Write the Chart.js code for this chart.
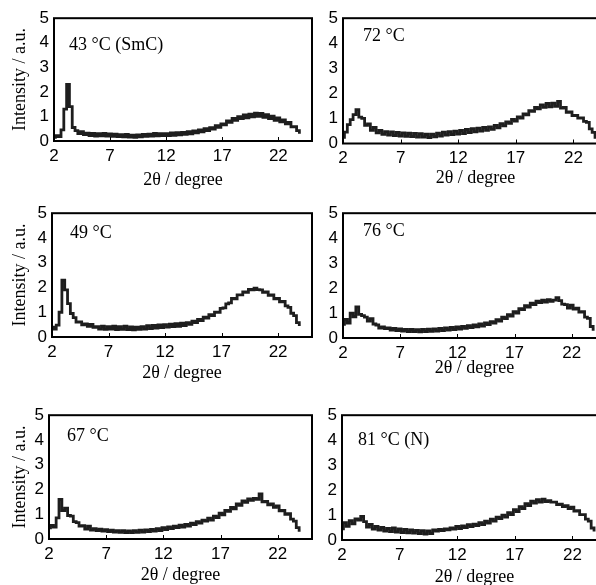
<!DOCTYPE html>
<html>
<head>
<meta charset="utf-8">
<script src="https://cdn.jsdelivr.net/npm/chart.js@4.4.0/dist/chart.umd.min.js"></script>
<style>
  html, body { margin: 0; padding: 0; background: #fff; width: 596px; height: 585px; overflow: hidden; }
  canvas { position: absolute; }
</style>
</head>
<body>
<script>
// 2theta sampling (degree)
const angles = [
  2.00, 2.25, 2.50, 2.75, 3.00, 3.25, 3.50, 3.75,
  4.00, 4.25, 4.50, 4.75, 5.00, 5.25, 5.50, 5.75,
  6.00, 6.25, 6.50, 6.75, 7.00, 7.25, 7.50, 7.75,
  8.00, 8.25, 8.50, 8.75, 9.00, 9.25, 9.50, 9.75,
  10.00, 10.25, 10.50, 10.75, 11.00, 11.25, 11.50, 11.75,
  12.00, 12.25, 12.50, 12.75, 13.00, 13.25, 13.50, 13.75,
  14.00, 14.25, 14.50, 14.75, 15.00, 15.25, 15.50, 15.75,
  16.00, 16.25, 16.50, 16.75, 17.00, 17.25, 17.50, 17.75,
  18.00, 18.25, 18.50, 18.75, 19.00, 19.25, 19.50, 19.75,
  20.00, 20.25, 20.50, 20.75, 21.00, 21.25, 21.50, 21.75,
  22.00, 22.25, 22.50, 22.75, 23.00, 23.25, 23.50, 23.75,
  24.00
];
const angleTicks = [2, 7, 12, 17, 22];
const intensityTicks = [0, 1, 2, 3, 4, 5];
const panelLabels = ['43 °C (SmC)', '72 °C', '49 °C', '76 °C', '67 °C', '81 °C (N)'];

// intensity (a.u.) per temperature
const i43 = [
  0.15, 0.22, 0.18, 0.45, 1.30, 2.30, 1.40, 0.55,
  0.42, 0.30, 0.38, 0.26, 0.32, 0.22, 0.31, 0.20,
  0.30, 0.21, 0.31, 0.20, 0.29, 0.19, 0.28, 0.18,
  0.26, 0.17, 0.27, 0.16, 0.24, 0.15, 0.25, 0.17,
  0.27, 0.19, 0.28, 0.20, 0.31, 0.21, 0.30, 0.22,
  0.30, 0.22, 0.33, 0.23, 0.34, 0.25, 0.35, 0.27,
  0.38, 0.29, 0.41, 0.33, 0.45, 0.37, 0.50, 0.42,
  0.54, 0.48, 0.62, 0.56, 0.70, 0.66, 0.82, 0.76,
  0.92, 0.84, 0.99, 0.91, 1.06, 0.94, 1.09, 0.98,
  1.13, 1.00, 1.12, 0.96, 1.07, 0.91, 1.01, 0.84,
  0.94, 0.78, 0.86, 0.70, 0.76, 0.58, 0.58, 0.42,
  0.35
];
const i72 = [
  0.25, 0.45, 0.75, 0.95, 1.15, 1.35, 1.05, 1.00,
  0.72, 0.78, 0.52, 0.64, 0.42, 0.52, 0.37, 0.47,
  0.34, 0.46, 0.32, 0.44, 0.30, 0.42, 0.29, 0.41,
  0.28, 0.40, 0.26, 0.39, 0.26, 0.37, 0.24, 0.37,
  0.27, 0.41, 0.30, 0.45, 0.34, 0.47, 0.36, 0.49,
  0.38, 0.52, 0.40, 0.56, 0.43, 0.59, 0.46, 0.61,
  0.49, 0.64, 0.52, 0.66, 0.56, 0.72, 0.62, 0.79,
  0.70, 0.86, 0.80, 0.96, 0.89, 1.06, 1.01, 1.18,
  1.14, 1.31, 1.28, 1.44, 1.38, 1.54, 1.44, 1.60,
  1.46, 1.61, 1.48, 1.68, 1.41, 1.44, 1.24, 1.26,
  1.11, 1.12, 1.01, 1.02, 0.88, 0.84, 0.58, 0.44,
  0.25
];
const i49 = [
  0.40, 0.32, 0.48, 1.00, 2.30, 1.90, 1.35, 0.95,
  0.78, 0.60, 0.61, 0.49, 0.53, 0.43, 0.51, 0.39,
  0.42, 0.32, 0.44, 0.31, 0.42, 0.32, 0.44, 0.30,
  0.42, 0.31, 0.44, 0.30, 0.41, 0.29, 0.40, 0.31,
  0.42, 0.32, 0.46, 0.34, 0.47, 0.36, 0.49, 0.38,
  0.50, 0.40, 0.52, 0.42, 0.54, 0.43, 0.56, 0.46,
  0.58, 0.51, 0.64, 0.58, 0.71, 0.66, 0.80, 0.76,
  0.90, 0.86, 1.00, 1.00, 1.16, 1.18, 1.34, 1.38,
  1.56, 1.54, 1.70, 1.70, 1.82, 1.80, 1.92, 1.90,
  1.97, 1.91, 1.90, 1.80, 1.82, 1.68, 1.70, 1.54,
  1.56, 1.42, 1.44, 1.26, 1.20, 0.96, 0.86, 0.58,
  0.50
];
const i76 = [
  0.55, 0.75, 0.60, 1.00, 0.85, 1.25, 0.95, 0.90,
  0.84, 0.68, 0.78, 0.56, 0.52, 0.40, 0.44, 0.38,
  0.40, 0.32, 0.38, 0.30, 0.36, 0.28, 0.34, 0.26,
  0.34, 0.26, 0.33, 0.25, 0.34, 0.26, 0.35, 0.27,
  0.36, 0.28, 0.38, 0.30, 0.40, 0.32, 0.42, 0.34,
  0.44, 0.36, 0.46, 0.39, 0.49, 0.42, 0.52, 0.45,
  0.56, 0.48, 0.60, 0.54, 0.66, 0.60, 0.74, 0.68,
  0.84, 0.78, 0.94, 0.88, 1.06, 1.00, 1.18, 1.14,
  1.30, 1.24, 1.40, 1.34, 1.48, 1.42, 1.52, 1.44,
  1.54, 1.47, 1.52, 1.62, 1.50, 1.36, 1.34, 1.20,
  1.32, 1.16, 1.20, 1.04, 1.06, 0.84, 0.79, 0.46,
  0.35
];
const i67 = [
  0.45, 0.55, 0.48, 0.85, 1.60, 1.15, 1.25, 0.95,
  0.92, 0.70, 0.66, 0.52, 0.54, 0.40, 0.52, 0.36,
  0.42, 0.34, 0.40, 0.32, 0.38, 0.30, 0.36, 0.28,
  0.34, 0.27, 0.34, 0.26, 0.33, 0.26, 0.34, 0.27,
  0.36, 0.28, 0.37, 0.30, 0.39, 0.32, 0.42, 0.34,
  0.46, 0.38, 0.49, 0.42, 0.52, 0.46, 0.56, 0.48,
  0.59, 0.52, 0.64, 0.58, 0.70, 0.64, 0.76, 0.72,
  0.84, 0.76, 0.92, 0.86, 1.04, 0.98, 1.16, 1.12,
  1.28, 1.22, 1.42, 1.36, 1.54, 1.48, 1.62, 1.56,
  1.64, 1.60, 1.82, 1.50, 1.52, 1.38, 1.42, 1.28,
  1.34, 1.14, 1.16, 1.00, 1.02, 0.80, 0.72, 0.46,
  0.35
];
const i81 = [
  0.45, 0.70, 0.55, 0.78, 0.65, 0.85, 0.80, 0.95,
  0.74, 0.52, 0.62, 0.44, 0.54, 0.40, 0.50, 0.36,
  0.46, 0.34, 0.48, 0.32, 0.44, 0.30, 0.42, 0.29,
  0.40, 0.28, 0.38, 0.26, 0.37, 0.24, 0.36, 0.26,
  0.40, 0.36, 0.42, 0.38, 0.44, 0.41, 0.48, 0.44,
  0.54, 0.46, 0.56, 0.50, 0.61, 0.54, 0.64, 0.58,
  0.70, 0.62, 0.76, 0.68, 0.84, 0.76, 0.92, 0.86,
  1.00, 0.92, 1.10, 1.02, 1.22, 1.14, 1.34, 1.26,
  1.46, 1.38, 1.56, 1.48, 1.62, 1.52, 1.64, 1.54,
  1.58, 1.52, 1.52, 1.42, 1.44, 1.34, 1.38, 1.26,
  1.32, 1.16, 1.18, 1.02, 1.02, 0.84, 0.76, 0.48,
  0.40
];

const series = [i43, i72, i49, i76, i67, i81];

// page layout of each plot box (left, top, bottom, px per degree, x title centre, label offset)
const panels = [
  { L: 54,  T: 15,  B: 141,   ppd: 11.2,  titleY: 180, yTitle: true,  lx: 15, ly: 27 },
  { L: 343, T: 15,  B: 143.5, ppd: 11.5,  titleY: 178, yTitle: false, lx: 20, ly: 18 },
  { L: 52,  T: 210, B: 337,   ppd: 11.3,  titleY: 373, yTitle: true,  lx: 18, ly: 20 },
  { L: 343, T: 210, B: 338,   ppd: 11.45, titleY: 368, yTitle: false, lx: 20, ly: 18 },
  { L: 49,  T: 412, B: 539,   ppd: 11.45, titleY: 575, yTitle: true,  lx: 18, ly: 21 },
  { L: 342, T: 412, B: 540,   ppd: 11.5,  titleY: 577, yTitle: false, lx: 16, ly: 25 }
];

const SERIF = '"Liberation Serif", "Times New Roman", serif';
const SANS = '"Liberation Sans", Arial, sans-serif';

// frame, inner x ticks and the temperature label
const framePlugin = {
  id: 'frame',
  afterDatasetsDraw(chart, args, opts) {
    const { ctx, chartArea: a } = chart;
    const xs = chart.scales.x;
    ctx.save();
    ctx.strokeStyle = '#000';
    ctx.lineWidth = 2;
    ctx.strokeRect(a.left, a.top, a.right - a.left, a.bottom - a.top);
    ctx.lineWidth = 1;
    angleTicks.slice(1).forEach(v => {
      const px = Math.round(xs.getPixelForValue(v)) + 0.5;
      ctx.beginPath();
      ctx.moveTo(px, a.bottom);
      ctx.lineTo(px, a.bottom - 4);
      ctx.stroke();
    });
    ctx.fillStyle = '#000';
    ctx.font = '18px ' + SERIF;
    ctx.textBaseline = 'middle';
    ctx.fillText(opts.text, a.left + opts.dx, a.top + opts.dy);
    ctx.restore();
  }
};

panels.forEach((p, k) => {
  const right = p.L + 23 * p.ppd;
  const cLeft = p.yTitle ? 0 : p.L - 50;
  const cTop = p.T - 12;
  const cBottom = p.titleY + 14;
  const canvas = document.createElement('canvas');
  canvas.width = Math.round(right - cLeft + 2);
  canvas.height = Math.round(cBottom - cTop);
  canvas.style.left = cLeft + 'px';
  canvas.style.top = cTop + 'px';
  document.body.appendChild(canvas);

  const yw = p.L - cLeft;
  const xh = cBottom - p.B;

  new Chart(canvas.getContext('2d'), {
    type: 'line',
    data: {
      datasets: [{
        data: angles.map((a, i) => ({ x: a, y: series[k][i] })),
        borderColor: '#1e1e1e',
        borderWidth: 2.8,
        pointRadius: 0,
        stepped: 'middle',
        fill: false
      }]
    },
    options: {
      responsive: false,
      animation: false,
      layout: { padding: { top: 12, right: 2, left: 0, bottom: 0 } },
      plugins: {
        legend: { display: false },
        tooltip: { enabled: false },
        frame: { text: panelLabels[k], dx: p.lx, dy: p.ly }
      },
      scales: {
        x: {
          type: 'linear',
          min: 2,
          max: 25,
          afterBuildTicks: s => { s.ticks = angleTicks.map(v => ({ value: v })); },
          afterFit: s => { s.height = xh; },
          grid: { display: false, drawTicks: false },
          border: { display: false },
          ticks: {
            padding: 5, color: '#000', autoSkip: false, maxRotation: 0,
            font: { family: SANS, size: 17 }
          },
          title: {
            display: true, text: '2θ / degree', color: '#000',
            font: { family: SERIF, size: 18 },
            padding: { top: 0, bottom: 3 }
          }
        },
        y: {
          min: 0,
          max: 5,
          afterBuildTicks: s => { s.ticks = intensityTicks.map(v => ({ value: v })); },
          afterFit: s => { s.width = yw; },
          grid: { display: false, drawTicks: false },
          border: { display: false },
          ticks: {
            padding: 5, color: '#000',
            font: { family: SANS, size: 17 }
          },
          title: {
            display: p.yTitle, text: 'Intensity / a.u.', color: '#000',
            font: { family: SERIF, size: 18 },
            padding: { top: 9, bottom: 0 }
          }
        }
      }
    },
    plugins: [framePlugin]
  });
});
</script>
</body>
</html>
